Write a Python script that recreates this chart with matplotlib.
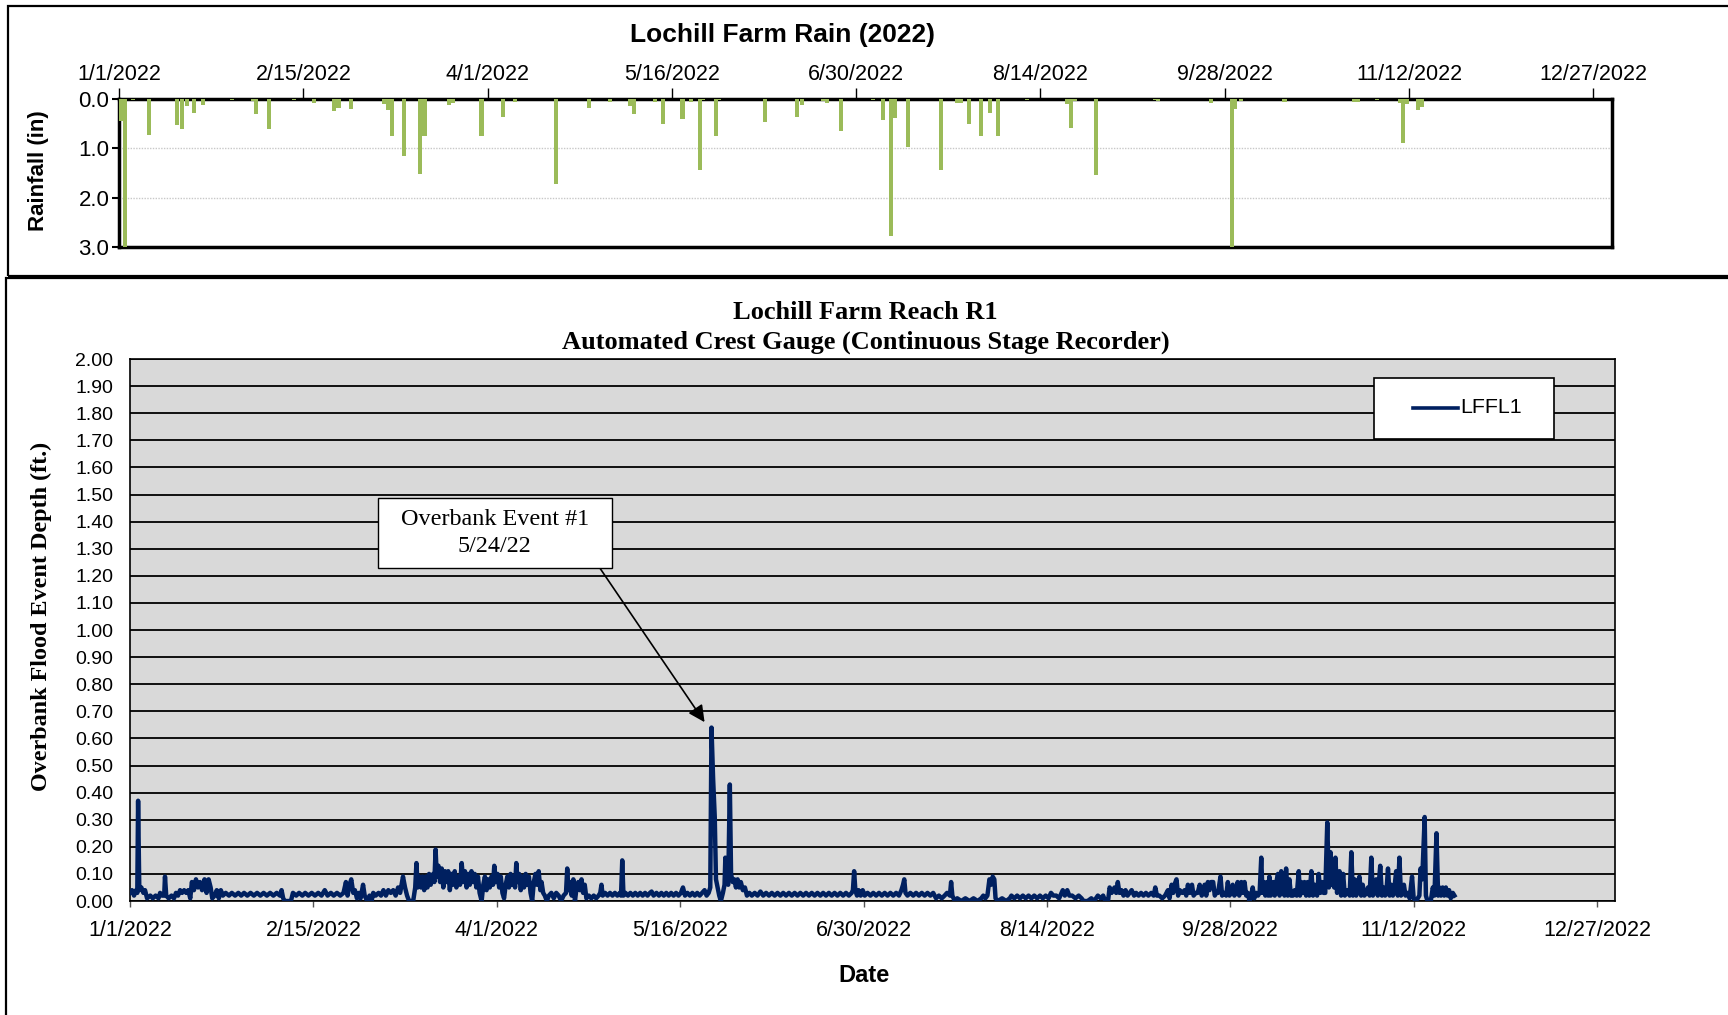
import numpy as np
import matplotlib
matplotlib.use('Agg')
import matplotlib.pyplot as plt

plt.rcParams['font.family'] = 'Liberation Sans'

# ---- rainfall (day offset from 1/1/2022, inches) ----
rain_day = [0.5, 1.5, 3.4, 7.3, 14.1, 15.4, 16.6, 18.4, 20.4, 27.6, 32.6, 33.5, 36.7,
            42.7, 47.7, 52.6, 53.6, 56.7, 64.7, 65.6, 66.6, 69.6, 73.6, 74.6, 80.6,
            81.6, 88.5, 93.8, 96.8, 106.6, 114.7, 119.8, 124.7, 125.7, 130.8, 132.8,
            137.6, 139.7, 141.8, 142.6, 145.7, 146.6, 157.8, 165.6, 166.7, 171.9,
            172.9, 176.4, 184.1, 186.6, 188.5, 189.6, 192.6, 200.7, 204.6, 205.6,
            207.6, 210.6, 212.7, 214.7, 221.8, 231.6, 232.4, 233.4, 238.6, 253.1,
            253.8, 266.6, 271.7, 272.6, 273.9, 284.6, 301.6, 302.6, 307.1, 312.9,
            313.6, 314.4, 317.3, 318.1]
rain_in = [0.45, 3.05, 0.03, 0.73, 0.52, 0.60, 0.15, 0.28, 0.13, 0.02, 0.05, 0.30, 0.60,
           0.02, 0.08, 0.24, 0.18, 0.20, 0.10, 0.22, 0.75, 1.15, 1.53, 0.75, 0.12,
           0.08, 0.75, 0.36, 0.07, 1.72, 0.18, 0.07, 0.15, 0.30, 0.06, 0.50,
           0.40, 0.06, 1.45, 0.03, 0.75, 0.03, 0.47, 0.37, 0.12, 0.05,
           0.09, 0.65, 0.02, 0.43, 2.78, 0.38, 0.98, 1.45, 0.08, 0.08,
           0.50, 0.75, 0.28, 0.75, 0.02, 0.10, 0.58, 0.05, 1.55, 0.03,
           0.05, 0.08, 3.05, 0.20, 0.05, 0.06, 0.07, 0.07, 0.02, 0.08,
           0.90, 0.10, 0.22, 0.17]

# ---- crest gauge stage readings (day offset, ft) ----
stage_jan_feb = [
    (0, 0.03), (0.5, 0.04), (1.0, 0.02), (1.5, 0.04), (1.8, 0.03), (2.0, 0.37), (2.3, 0.04),
    (2.8, 0.05), (3.3, 0.03), (3.7, 0.04), (4.2, 0.01), (5, 0.02), (5.6, 0.01), (6.3, 0.02),
    (7, 0.01), (7.4, 0.03), (7.9, 0.02), (8.4, 0.02), (8.6, 0.09), (8.9, 0.02), (9.5, 0.01),
    (10.2, 0.02), (10.8, 0.01), (11.3, 0.03), (11.8, 0.02), (12.3, 0.04), (12.8, 0.03),
    (13.3, 0.04), (13.8, 0.03), (14.3, 0.04), (14.8, 0.01), (15.2, 0.07), (15.7, 0.04),
    (16.2, 0.08), (16.7, 0.05), (17.2, 0.07), (17.7, 0.04), (18.3, 0.08), (18.8, 0.03),
    (19.3, 0.08), (19.8, 0.05), (20.2, 0.01), (20.8, 0.02), (21.3, 0.04), (21.8, 0.01),
    (22.3, 0.04), (22.8, 0.02), (23.5, 0.03), (24.3, 0.02), (25, 0.03), (25.8, 0.02),
    (26.6, 0.03), (27.3, 0.02), (28, 0.03), (28.8, 0.02), (29.6, 0.03), (30.4, 0.02),
    (31.2, 0.03), (32, 0.02), (32.8, 0.03), (33.6, 0.02), (34.4, 0.03), (35.2, 0.02),
    (36, 0.03), (36.8, 0.02), (37.2, 0.04), (37.6, 0.01), (38, 0.00), (39.5, 0.00),
    (40, 0.03), (40.8, 0.02), (41.5, 0.03), (42.3, 0.02), (43, 0.03), (43.8, 0.02),
    (44.6, 0.03), (45.4, 0.02), (46.2, 0.03), (47, 0.02), (47.8, 0.04), (48.5, 0.02),
    (49.3, 0.03), (50, 0.02), (50.8, 0.03), (51.6, 0.02), (52.4, 0.03), (53, 0.07),
    (53.4, 0.02), (53.9, 0.06), (54.3, 0.08), (54.8, 0.03), (55.2, 0.04), (55.7, 0.01),
    (56.2, 0.03), (56.6, 0.01), (57.2, 0.06), (57.6, 0.02), (58.2, 0.00), (58.8, 0.02)]
stage_mar_apr = [
    (59.3, 0.00), (59.7, 0.03), (60.3, 0.02), (61, 0.03), (61.6, 0.02), (62.2, 0.04),
    (62.8, 0.02), (63.4, 0.04), (64, 0.03), (64.6, 0.04), (65.2, 0.02), (65.8, 0.05),
    (66.3, 0.03), (67, 0.09), (67.5, 0.05), (68, 0.02), (68.5, 0.00), (69.5, 0.00),
    (70, 0.05), (70.3, 0.14), (70.6, 0.05), (71, 0.09), (71.4, 0.05), (71.8, 0.09),
    (72.2, 0.04), (72.6, 0.09), (73, 0.05), (73.4, 0.10), (73.8, 0.06), (74.4, 0.10),
    (74.7, 0.07), (75, 0.19), (75.3, 0.09), (75.7, 0.13), (76.1, 0.07), (76.5, 0.12),
    (76.9, 0.05), (77.3, 0.11), (77.7, 0.07), (78.1, 0.11), (78.5, 0.04), (78.9, 0.10),
    (79.3, 0.06), (79.7, 0.11), (80.1, 0.05), (80.6, 0.09), (81, 0.06), (81.4, 0.14),
    (81.8, 0.07), (82.2, 0.11), (82.6, 0.05), (83, 0.10), (83.4, 0.06), (83.8, 0.11),
    (84.2, 0.07), (84.6, 0.10), (85, 0.05), (85.4, 0.09), (85.8, 0.03), (86.3, 0.00),
    (86.7, 0.06), (87.1, 0.09), (87.5, 0.04), (87.9, 0.08), (88.3, 0.05), (88.7, 0.09),
    (89.1, 0.06), (89.4, 0.13), (89.8, 0.07), (90.2, 0.10), (90.6, 0.05), (91, 0.09),
    (91.4, 0.03), (91.8, 0.01), (92.2, 0.06), (92.6, 0.09), (93, 0.05), (93.4, 0.10),
    (93.8, 0.06), (94.2, 0.09), (94.5, 0.05), (94.8, 0.14), (95.1, 0.07), (95.5, 0.10),
    (95.9, 0.04), (96.3, 0.09), (96.7, 0.05), (97.1, 0.10), (97.5, 0.06), (97.9, 0.09),
    (98.3, 0.03), (98.7, 0.00), (99.1, 0.07), (99.5, 0.10), (99.9, 0.06), (100.3, 0.11),
    (100.7, 0.04), (101, 0.07), (101.4, 0.03), (101.8, 0.02), (102.3, 0.00), (102.8, 0.02),
    (103.4, 0.03), (104, 0.01), (104.6, 0.03), (105.2, 0.02), (105.8, 0.00), (106.4, 0.02),
    (107, 0.03), (107.3, 0.12), (107.6, 0.04), (108, 0.07), (108.4, 0.02), (108.8, 0.08),
    (109.2, 0.00), (109.6, 0.05), (110, 0.07), (110.4, 0.04), (110.8, 0.08), (111.2, 0.03),
    (111.6, 0.06), (112, 0.01), (112.6, 0.02), (113.2, 0.01), (113.8, 0.02), (114.4, 0.01),
    (115, 0.02), (115.4, 0.03), (115.7, 0.06), (116, 0.02), (116.6, 0.03), (117.2, 0.02),
    (117.8, 0.03), (118.4, 0.02), (119, 0.03), (119.6, 0.02)]
stage_may_jun = [
    (120.2, 0.03), (120.5, 0.02), (120.8, 0.15), (121.1, 0.02), (121.6, 0.03), (122.2, 0.02),
    (122.8, 0.03), (123.4, 0.02), (124, 0.03), (124.6, 0.02), (125.2, 0.03), (125.8, 0.02),
    (126.4, 0.03), (127, 0.02), (127.6, 0.03), (128, 0.035), (128.5, 0.02), (129.2, 0.03),
    (129.8, 0.02), (130.4, 0.03), (131, 0.02), (131.6, 0.03), (132.2, 0.02), (132.8, 0.03),
    (133.4, 0.02), (134, 0.03), (134.6, 0.02), (135.2, 0.03), (135.7, 0.05), (136.2, 0.02),
    (136.8, 0.03), (137.4, 0.02), (138, 0.03), (138.6, 0.02), (139.2, 0.03), (139.8, 0.02),
    (140.4, 0.03), (141, 0.04), (141.5, 0.02), (142, 0.03), (142.4, 0.05), (142.7, 0.64),
    (143.1, 0.45), (143.5, 0.31), (143.8, 0.08), (144.2, 0.05), (144.6, 0.02), (145, 0.00),
    (145.5, 0.03), (145.9, 0.06), (146.1, 0.16), (146.4, 0.08), (146.8, 0.06), (147.2, 0.43),
    (147.5, 0.10), (147.9, 0.07), (148.3, 0.08), (148.7, 0.05), (149.1, 0.08), (149.5, 0.05),
    (149.9, 0.07), (150.4, 0.04), (150.9, 0.05), (151.4, 0.02), (152, 0.03), (152.6, 0.02),
    (153.3, 0.03), (154, 0.02), (154.7, 0.035), (155.4, 0.02), (156.1, 0.03), (156.8, 0.02),
    (157.5, 0.03), (158.2, 0.02), (158.9, 0.03), (159.6, 0.02), (160.3, 0.03), (161, 0.02),
    (161.7, 0.03), (162.4, 0.02), (163.1, 0.03), (163.8, 0.02), (164.5, 0.03), (165.2, 0.02),
    (165.9, 0.03), (166.6, 0.02), (167.3, 0.03), (168, 0.02), (168.7, 0.03), (169.4, 0.02),
    (170.1, 0.03), (170.8, 0.02), (171.5, 0.03), (172.2, 0.02), (172.9, 0.03), (173.6, 0.02),
    (174.3, 0.03), (175, 0.02), (175.7, 0.03), (176.4, 0.02), (177.1, 0.03), (177.4, 0.04),
    (177.7, 0.11), (178, 0.04), (178.4, 0.02), (178.8, 0.04), (179.3, 0.02), (179.8, 0.04)]
stage_jul_aug = [
    (180.3, 0.02), (181, 0.03), (181.7, 0.02), (182.4, 0.03), (183.1, 0.02), (183.8, 0.03),
    (184.5, 0.02), (185.2, 0.03), (185.9, 0.02), (186.6, 0.03), (187.3, 0.02), (188, 0.03),
    (188.7, 0.02), (189.3, 0.04), (189.7, 0.06), (190, 0.08), (190.3, 0.03), (190.8, 0.02),
    (191.5, 0.03), (192.2, 0.02), (192.9, 0.03), (193.6, 0.02), (194.3, 0.03), (195, 0.02),
    (195.7, 0.03), (196.4, 0.02), (197.1, 0.03), (197.8, 0.01), (198.5, 0.02), (199.2, 0.01),
    (199.9, 0.02), (200.5, 0.03), (201.2, 0.02), (201.5, 0.07), (201.8, 0.02), (202.4, 0.00),
    (203, 0.01), (204, 0.00), (205, 0.01), (206, 0.00), (207, 0.01), (208, 0.00),
    (208.9, 0.01), (209.4, 0.02), (209.9, 0.01), (210.4, 0.02), (210.9, 0.08), (211.3, 0.06),
    (211.7, 0.09), (212.1, 0.08), (212.4, 0.01), (213, 0.00), (214, 0.01), (215, 0.00),
    (215.9, 0.01), (216.3, 0.02), (217, 0.01), (217.7, 0.02), (218.4, 0.01), (219.1, 0.02),
    (219.8, 0.01), (220.5, 0.02), (221.2, 0.01), (221.9, 0.02), (222.6, 0.01), (223.3, 0.02),
    (224, 0.01), (224.7, 0.02), (225.4, 0.01), (226, 0.03), (226.6, 0.02), (227.3, 0.02),
    (228, 0.01), (228.9, 0.04), (229.4, 0.02), (230, 0.04), (230.5, 0.02), (231.2, 0.02),
    (232, 0.01), (232.8, 0.02), (233.5, 0.01), (234, 0.00), (235, 0.00), (235.9, 0.01),
    (236.6, 0.00), (237.5, 0.02), (238.2, 0.01), (238.8, 0.02), (239.3, 0.00), (240, 0.00),
    (240.4, 0.05), (240.9, 0.03), (241.6, 0.05), (242, 0.03), (242.4, 0.07), (242.8, 0.03)]
stage_sep_nov = [
    (243.3, 0.04), (243.8, 0.02), (244.3, 0.04), (244.8, 0.02), (245.3, 0.03), (245.8, 0.04),
    (246.4, 0.02), (246.9, 0.03), (247.5, 0.02), (248.1, 0.03), (248.7, 0.02), (249.3, 0.03),
    (249.9, 0.02), (250.6, 0.03), (251.2, 0.02), (251.6, 0.05), (252, 0.02), (252.6, 0.02),
    (253.3, 0.01), (254, 0.02), (254.7, 0.04), (255.1, 0.01), (255.6, 0.06), (256, 0.03),
    (256.3, 0.06), (256.8, 0.08), (257.2, 0.02), (257.6, 0.04), (258.2, 0.03), (258.8, 0.04),
    (259.2, 0.02), (259.6, 0.06), (260.1, 0.03), (260.6, 0.06), (261, 0.02), (261.5, 0.03),
    (262, 0.03), (262.5, 0.06), (263, 0.02), (263.7, 0.06), (264.1, 0.02), (264.5, 0.07),
    (264.9, 0.04), (265.3, 0.07), (265.8, 0.07), (266.2, 0.02), (266.5, 0.03), (267, 0.03),
    (267.6, 0.09), (268, 0.02), (268.5, 0.03), (269, 0.02), (269.4, 0.07), (269.8, 0.02),
    (270.2, 0.03), (270.6, 0.06), (271, 0.02), (271.4, 0.03), (271.8, 0.07), (272.2, 0.02),
    (272.7, 0.07), (273.1, 0.03), (273.5, 0.07), (273.9, 0.02), (274.3, 0.03), (274.7, 0.00),
    (275, 0.01), (275.5, 0.05), (275.9, 0.01), (276.4, 0.03), (276.8, 0.02), (277.2, 0.03),
    (277.6, 0.16), (277.9, 0.03), (278.2, 0.07), (278.6, 0.02), (279, 0.07), (279.3, 0.02),
    (279.6, 0.09), (279.9, 0.02), (280.5, 0.07), (280.9, 0.02), (281.3, 0.07), (281.7, 0.10),
    (282.1, 0.02), (282.5, 0.11), (282.9, 0.05), (283.3, 0.02), (283.7, 0.12), (284.1, 0.02),
    (284.5, 0.08), (284.9, 0.02), (285.4, 0.02), (285.8, 0.04), (286.3, 0.02), (286.8, 0.11),
    (287.1, 0.02), (287.4, 0.07), (287.8, 0.03), (288.2, 0.07), (288.6, 0.02), (289, 0.07),
    (289.4, 0.02), (289.9, 0.11), (290.3, 0.02), (290.7, 0.06), (291, 0.03), (291.3, 0.02),
    (291.7, 0.10), (292.1, 0.03), (292.5, 0.07), (292.9, 0.03), (293.3, 0.03), (293.8, 0.29),
    (294.2, 0.05), (294.6, 0.18), (294.9, 0.06), (295.2, 0.15), (295.5, 0.05), (295.8, 0.16),
    (296.2, 0.03), (296.8, 0.11), (297.2, 0.02), (297.7, 0.10), (298.1, 0.02), (298.5, 0.03),
    (298.8, 0.04), (299.3, 0.02), (299.7, 0.18), (300.1, 0.02), (300.5, 0.08), (300.9, 0.02),
    (301.3, 0.07), (301.7, 0.09), (302.1, 0.02), (302.5, 0.06), (302.9, 0.02), (303.4, 0.03),
    (303.8, 0.05), (304.2, 0.02), (304.6, 0.16), (305, 0.02), (305.4, 0.06), (305.8, 0.08),
    (306.2, 0.02), (306.8, 0.13), (307.2, 0.02), (307.6, 0.05), (308, 0.02), (308.3, 0.03),
    (308.7, 0.12), (309.1, 0.02), (309.5, 0.06), (309.9, 0.02), (310.3, 0.05), (310.7, 0.11),
    (311.1, 0.02), (311.5, 0.16), (311.9, 0.02), (312.3, 0.03), (312.6, 0.06), (313, 0.02),
    (313.5, 0.03), (314, 0.01), (314.6, 0.09), (315, 0.01), (315.5, 0.00), (316, 0.01),
    (316.4, 0.02), (316.7, 0.12), (317.1, 0.08), (317.7, 0.31), (318, 0.02), (318.4, 0.00),
    (319.2, 0.00), (319.7, 0.05), (320.1, 0.02), (320.6, 0.25), (321, 0.02), (321.3, 0.05),
    (321.7, 0.02), (322.1, 0.05), (322.5, 0.02), (322.9, 0.05), (323.3, 0.02), (323.7, 0.04),
    (324.1, 0.01), (324.6, 0.03), (325, 0.02)]

tick_days = [0, 45, 90, 135, 180, 225, 270, 315, 360]
tick_labels = ['1/1/2022', '2/15/2022', '4/1/2022', '5/16/2022', '6/30/2022',
               '8/14/2022', '9/28/2022', '11/12/2022', '12/27/2022']

stage = stage_jan_feb + stage_mar_apr + stage_may_jun + stage_jul_aug + stage_sep_nov
stage_day = [p[0] for p in stage]
stage_ft = [p[1] for p in stage]

navy = '#002060'
fig = plt.figure(figsize=(17.28, 10.15), dpi=100)

# outer frames
fig.add_artist(plt.Rectangle((0.0045, 0.7285), 1.2, 0.266, transform=fig.transFigure,
                             fill=False, lw=1.6, ec='black'))
fig.add_artist(plt.Rectangle((0.0032, -0.1), 1.2, 0.826, transform=fig.transFigure,
                             fill=False, lw=1.6, ec='black'))

# ---------- rain chart ----------
ax1 = fig.add_axes([0.0689, 0.7567, 0.864, 0.1458])
ax1.bar(rain_day, rain_in, width=1.0, color='#9BBB59', zorder=3)
ax1.set_xlim(0, 364.6)
ax1.set_ylim(3.0, 0.0)
ax1.xaxis.tick_top()
ax1.set_xticks(tick_days)
ax1.set_xticklabels(tick_labels, fontsize=15.5)
ax1.tick_params(axis='x', length=8, width=1, pad=2)
ax1.set_yticks([0, 1, 2, 3])
ax1.set_yticklabels(['0.0', '1.0', '2.0', '3.0'], fontsize=16)
ax1.tick_params(axis='y', length=5, width=1.5, pad=2)
ax1.grid(axis='y', color='#c8c8c8', lw=1.0, linestyle=(0, (1, 1)), zorder=0)
for s in ax1.spines.values():
    s.set_linewidth(2.5)
fig.text(0.453, 0.9655, 'Lochill Farm Rain (2022)', ha='center', va='center',
         fontsize=19, fontweight='bold')
fig.text(0.0225, 0.8315, 'Rainfall (in)', rotation=90, ha='center', va='center',
         fontsize=16, fontweight='bold')

# ---------- crest gauge chart ----------
ax2 = fig.add_axes([0.0752, 0.1123, 0.8594, 0.534])
ax2.set_facecolor('#D9D9D9')
ax2.plot(stage_day, stage_ft, color=navy, lw=3.2, zorder=3)
ax2.set_xlim(0, 364.4)
ax2.set_ylim(0, 2.0)
ax2.set_yticks(np.round(np.arange(0, 2.01, 0.1), 2))
ax2.yaxis.set_major_formatter(matplotlib.ticker.FormatStrFormatter('%.2f'))
ax2.tick_params(axis='y', length=0, pad=12, labelsize=14)
ax2.set_xticks(tick_days)
ax2.set_xticklabels(tick_labels, fontsize=15.5)
ax2.tick_params(axis='x', direction='out', length=4, width=1, pad=9.5, color='#555555')
ax2.grid(axis='y', color='black', lw=1.3, zorder=1)
for s in ax2.spines.values():
    s.set_linewidth(1.2)

serif = 'Liberation Serif'
fig.text(0.501, 0.677, 'Lochill Farm Reach R1\nAutomated Crest Gauge (Continuous Stage Recorder)',
         ha='center', va='center', fontsize=19, fontweight='bold', family=serif,
         linespacing=1.36)
fig.text(0.0237, 0.393, 'Overbank Flood Event Depth (ft.)', rotation=90, ha='center',
         va='center', fontsize=17.4, fontweight='bold', family=serif)
fig.text(0.5, 0.0394, 'Date', ha='center', va='center', fontsize=17, fontweight='bold')

# legend box (drawn in axes fraction)
ax2.add_patch(plt.Rectangle((0.838, 0.852), 0.121, 0.113, transform=ax2.transAxes,
                            fc='white', ec='black', lw=1.2, zorder=6))
ax2.plot([0.864, 0.894], [0.910, 0.910], transform=ax2.transAxes, color=navy, lw=2.6,
         zorder=7)
ax2.text(0.8955, 0.910, 'LFFL1', transform=ax2.transAxes, ha='left', va='center',
         fontsize=15.4, zorder=7)

ax2.annotate('  Overbank Event #1  \n5/24/22', xy=(141.0, 0.66), xytext=(89.5, 1.358),
             ha='center', va='center', fontsize=17.4, family=serif, linespacing=1.36,
             bbox=dict(boxstyle='square,pad=0.45', fc='white', ec='black', lw=1.0),
             arrowprops=dict(arrowstyle='-|>', color='black', lw=1.2, mutation_scale=25,
                             relpos=(0.96, 0.0), shrinkA=0, shrinkB=0),
             zorder=5)

fig.savefig('out.png', dpi=100)
